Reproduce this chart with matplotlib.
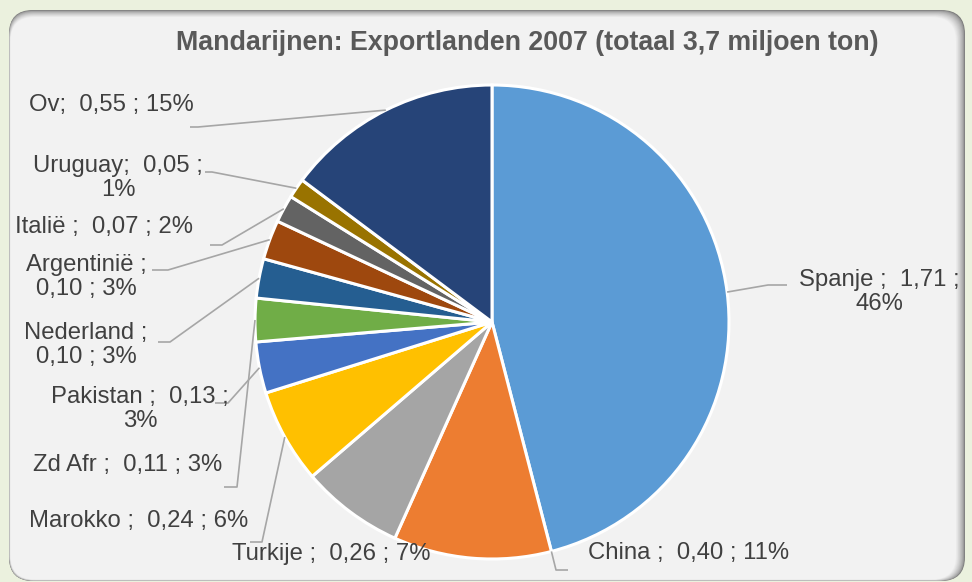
import numpy as np
import matplotlib
matplotlib.use('Agg')
import matplotlib.pyplot as plt
from matplotlib.patches import FancyBboxPatch
from matplotlib.colors import to_rgb

# ---------------- data ----------------
countries = ['Spanje', 'China', 'Turkije', 'Marokko', 'Pakistan', 'Zd Afr',
             'Nederland', 'Argentinië', 'Italië', 'Uruguay', 'Ov']
values = [1.71, 0.40, 0.26, 0.24, 0.13, 0.11, 0.10, 0.10, 0.07, 0.05, 0.55]
label_texts = [
    'Spanje ;  1,71 ;\n46%',
    'China ;  0,40 ; 11%',
    'Turkije ;  0,26 ; 7%',
    'Marokko ;  0,24 ; 6%',
    'Pakistan ;  0,13 ;\n3%',
    'Zd Afr ;  0,11 ; 3%',
    'Nederland ;\n0,10 ; 3%',
    'Argentinië ;\n0,10 ; 3%',
    'Italië ;  0,07 ; 2%',
    'Uruguay;  0,05 ;\n1%',
    'Ov;  0,55 ; 15%',
]
title = 'Mandarijnen: Exportlanden 2007 (totaal 3,7 miljoen ton)'

colors = ['#5B9BD5', '#ED7D31', '#A5A5A5', '#FFC000', '#4472C4', '#70AD47',
          '#255E91', '#9E480E', '#636363', '#997300', '#264478']

# ---------------- layout (pixels) ----------------
W, H = 972, 582
CX, CY, R = 492, 322, 237

label_pos = [(879, 292), (689, 553), (331, 554), (139, 521), (140, 409),
             (128, 465), (86, 345), (86, 277), (104, 227), (118, 178), (111, 105)]
# leader elbows (label side), None = no leader line
elbows = [[(787, 285), (768, 285)],
          [(568, 570), (556, 570)],
          None,
          [(250, 542), (262, 542)],
          [(215, 403), (228, 403)],
          [(224, 487), (237, 487)],
          [(158, 342), (170, 342)],
          [(152, 270), (168, 270)],
          [(210, 245), (222, 245)],
          [(205, 172), (212, 172)],
          [(190, 127), (198, 127)]]
anchor_frac = [0.5, 1.0, 0.5, 0.5, 0.5, 0.5, 0.5, 0.5, 0.5, 0.5, 0.5]


def P(px, py):
    return ((px - CX) / R, (CY - py) / R)


plt.rcParams['font.family'] = ['Liberation Sans', 'DejaVu Sans']

fig = plt.figure(figsize=(W / 100, H / 100), dpi=100)
fig.patch.set_facecolor('#EBF1DE')
ax = fig.add_axes([0, 0, 1, 1])
ax.set_axis_off()

# panel with bevel/shadow
c_dark = np.array(to_rgb('#7A7A7A'))
c_light = np.array(to_rgb('#F2F2F2'))
n = 14
for i in range(n):
    t = i / (n - 1)
    x0 = 9 + 1.5 * t
    x1 = 965 - 9 * t
    ytop = 10 + 7 * t
    ybot = 581 - 1.5 * t
    (ax0, ay0) = P(x0, ybot)
    (ax1, ay1) = P(x1, ytop)
    col = c_dark + (c_light - c_dark) * (t ** 0.6)
    rad = 24 / R
    patch = FancyBboxPatch((ax0 + rad, ay0 + rad), (ax1 - ax0) - 2 * rad, (ay1 - ay0) - 2 * rad,
                           boxstyle=f'round,pad={rad}', facecolor=col, edgecolor='none', zorder=0)
    ax.add_patch(patch)

wedges, _ = ax.pie(values, colors=colors, startangle=90, counterclock=False, radius=1,
                   center=(0, 0), wedgeprops=dict(edgecolor='white', linewidth=2.2))
for w in wedges:
    w.set_zorder(2)

ax.set_xlim(-CX / R, (W - CX) / R)
ax.set_ylim(-(H - CY) / R, CY / R)
ax.set_aspect('equal')

for w, txt, pos, elb, fr in zip(wedges, label_texts, label_pos, elbows, anchor_frac):
    tx, ty = P(*pos)
    ax.text(tx, ty, txt, ha='center', va='center', fontsize=17.2, color='#404040',
            linespacing=1.15, zorder=4)
    if elb is not None:
        th = np.deg2rad(w.theta1 + (w.theta2 - w.theta1) * fr)
        ex, ey = np.cos(th), np.sin(th)
        pts = [P(*p) for p in elb] + [(ex, ey)]
        xs, ys = zip(*pts)
        ax.plot(xs, ys, color='#A6A6A6', lw=1.2, zorder=3, solid_capstyle='butt')

tx, ty = P(527, 43)
ax.text(tx, ty, title, ha='center', va='center', fontsize=19.3, fontweight='bold',
        color='#595959', zorder=4)

fig.savefig('out.png', dpi=100, facecolor=fig.get_facecolor())
